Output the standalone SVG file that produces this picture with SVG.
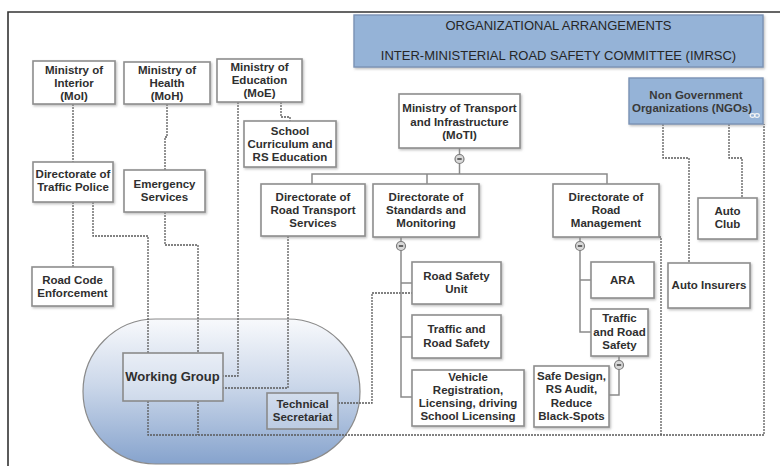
<svg xmlns="http://www.w3.org/2000/svg" width="780" height="466" viewBox="0 0 780 466">
<defs>
<linearGradient id="stad" x1="0" y1="0" x2="0" y2="1">
<stop offset="0" stop-color="#f8f9fc"/>
<stop offset="0.45" stop-color="#ccd8ea"/>
<stop offset="1" stop-color="#86a3cd"/>
</linearGradient>
<filter id="sh" x="-10%" y="-10%" width="125%" height="130%">
<feDropShadow dx="1.2" dy="1.4" stdDeviation="0.8" flood-color="#888" flood-opacity="0.55"/>
</filter>
</defs>
<style>
.box{fill:#fff;stroke:#8e8e8e;stroke-width:1.6;filter:url(#sh)}
.tbox{fill:#fff;fill-opacity:0.25;stroke:#8a8a8a;stroke-width:1.6}
.bbox{fill:#95b3d7;stroke:#7b93b6;stroke-width:1.4;filter:url(#sh)}
.t{font-family:"Liberation Sans",Arial,sans-serif;font-size:11.5px;font-weight:bold;fill:#2f2f2f;text-anchor:middle}
.tt{font-family:"Liberation Sans",Arial,sans-serif;font-size:13px;fill:#262626;text-anchor:middle}
.tn{font-family:"Liberation Sans",Arial,sans-serif;font-size:11.5px;font-weight:bold;fill:#3a3a3a;text-anchor:middle}
.sol{fill:none;stroke:#8a8a8a;stroke-width:1.5}
.dash{fill:none;stroke:#5a5a5a;stroke-width:1.3;stroke-dasharray:2 1}
.cir{fill:#d9d9d9;stroke:#7a7a7a;stroke-width:1.2}
.minus{stroke:#333;stroke-width:1.4}
.frame{fill:none;stroke:#333;stroke-width:1.6}
</style>
<rect width="780" height="466" fill="#fff"/>
<path class="frame" d="M8,466 V12 H780"/>

<g id="working-area">
<rect x="83" y="319" width="277" height="145" rx="72.5" fill="url(#stad)" stroke="#8a8a8a" stroke-width="1.2"/>
</g>

<g id="connectors">
<path class="dash" d="M73,104 V162"/>
<path class="dash" d="M73,202 V267"/>
<path class="dash" d="M93,202 V236 H148 V353"/>
<path class="dash" d="M167,104 V137 H165 V170"/>
<path class="dash" d="M165,212 V245 H198 V353"/>
<path class="dash" d="M238,102 V376 H223"/>
<path class="dash" d="M281,102 V117 H290 V121"/>
<path class="dash" d="M288,236 V388 H223"/>
<path class="dash" d="M338,403 H372 V293 H412"/>
<path class="dash" d="M148,401 V435 H764 V124"/>
<path class="dash" d="M198,401 V435"/>
<path class="dash" d="M659,237 H661 V435"/>
<path class="dash" d="M663,124 V158 H689 V263"/>
<path class="dash" d="M729,124 V158 H742 V198"/>
<path class="sol" d="M459.5,148 V154.5 M459.5,163.5 V174 M312,184 V174 H607 V184 M427,174 V184"/>
<path class="sol" d="M401,237 V241.5 M401,250.5 V397 H412 M401,283 H412 M401,337 H412"/>
<path class="sol" d="M580,237 V241.5 M580,250.5 V332 H591 M580,280 H591"/>
<path class="sol" d="M619,356 V360.5 M619,369.5 V395 H609"/>
<g id="collapse-icons">
<circle class="cir" cx="459.5" cy="159" r="4.5"/><path class="minus" d="M457.3,159 H461.7"/>
<circle class="cir" cx="401" cy="246" r="4.5"/><path class="minus" d="M398.8,246 H403.2"/>
<circle class="cir" cx="580" cy="246" r="4.5"/><path class="minus" d="M577.8,246 H582.2"/>
<circle class="cir" cx="619" cy="365" r="4.5"/><path class="minus" d="M616.8,365 H621.2"/>
</g>
</g>

<g id="title">
<rect class="bbox" x="354" y="15" width="409" height="52"/>
<text class="tt" x="558.5" y="30">ORGANIZATIONAL ARRANGEMENTS</text>
<text class="tt" x="558.5" y="60">INTER-MINISTERIAL ROAD SAFETY COMMITTEE (IMRSC)</text>
</g>

<g id="ngo">
<rect class="bbox" x="629" y="78" width="134" height="46"/>
<text class="tn" x="696" y="99">Non Government</text>
<text class="tn" x="692" y="112">Organizations (NGOs)</text>
<g fill="none" stroke="#f4f4f4" stroke-width="1.2"><ellipse cx="752.5" cy="115.5" rx="2.3" ry="1.8"/><ellipse cx="757" cy="115.5" rx="2.3" ry="1.8"/></g>
</g>

<g id="moi">
<rect class="box" x="33" y="61" width="82" height="43"/>
<text class="t" x="74" y="74">Ministry of</text>
<text class="t" x="74" y="87">Interior</text>
<text class="t" x="74" y="100">(MoI)</text>
</g>
<g id="moh">
<rect class="box" x="124" y="62" width="86" height="42"/>
<text class="t" x="167" y="74">Ministry of</text>
<text class="t" x="167" y="87">Health</text>
<text class="t" x="167" y="100">(MoH)</text>
</g>
<g id="moe">
<rect class="box" x="217" y="59" width="85" height="43"/>
<text class="t" x="259.5" y="71">Ministry of</text>
<text class="t" x="259.5" y="84">Education</text>
<text class="t" x="259.5" y="97">(MoE)</text>
</g>
<g id="school">
<rect class="box" x="244" y="121" width="92" height="46"/>
<text class="t" x="290" y="135">School</text>
<text class="t" x="290" y="148">Curriculum and</text>
<text class="t" x="290" y="161">RS Education</text>
</g>
<g id="traffic-police">
<rect class="box" x="33" y="162" width="80" height="40"/>
<text class="t" x="73" y="178">Directorate of</text>
<text class="t" x="73" y="191">Traffic Police</text>
</g>
<g id="emergency">
<rect class="box" x="124" y="170" width="81" height="42"/>
<text class="t" x="164.5" y="188">Emergency</text>
<text class="t" x="164.5" y="201">Services</text>
</g>
<g id="road-code">
<rect class="box" x="32" y="267" width="81" height="39"/>
<text class="t" x="72.5" y="284">Road Code</text>
<text class="t" x="72.5" y="297">Enforcement</text>
</g>
<g id="road-transport">
<rect class="box" x="261" y="184" width="104" height="52"/>
<text class="t" x="313" y="201">Directorate of</text>
<text class="t" x="313" y="214">Road Transport</text>
<text class="t" x="313" y="227">Services</text>
</g>
<g id="moti">
<rect class="box" x="399" y="94" width="121" height="54"/>
<text class="t" x="459.5" y="112">Ministry of Transport</text>
<text class="t" x="459.5" y="126">and Infrastructure</text>
<text class="t" x="459.5" y="139">(MoTI)</text>
</g>
<g id="standards">
<rect class="box" x="373" y="184" width="106" height="53"/>
<text class="t" x="426" y="201">Directorate of</text>
<text class="t" x="426" y="214">Standards and</text>
<text class="t" x="426" y="227">Monitoring</text>
</g>
<g id="road-management">
<rect class="box" x="553" y="184" width="106" height="53"/>
<text class="t" x="606" y="201">Directorate of</text>
<text class="t" x="606" y="214">Road</text>
<text class="t" x="606" y="227">Management</text>
</g>
<g id="auto-club">
<rect class="box" x="698" y="198" width="59" height="41"/>
<text class="t" x="727.5" y="215">Auto</text>
<text class="t" x="727.5" y="228">Club</text>
</g>
<g id="auto-insurers">
<rect class="box" x="668" y="263" width="82" height="45"/>
<text class="t" x="709" y="289">Auto Insurers</text>
</g>
<g id="road-safety-unit">
<rect class="box" x="412" y="262" width="89" height="42"/>
<text class="t" x="456.5" y="280">Road Safety</text>
<text class="t" x="456.5" y="293">Unit</text>
</g>
<g id="traffic-road-safety">
<rect class="box" x="412" y="315" width="89" height="43"/>
<text class="t" x="456.5" y="333">Traffic and</text>
<text class="t" x="456.5" y="347">Road Safety</text>
</g>
<g id="vehicle-registration">
<rect class="box" x="412" y="370" width="112" height="56"/>
<text class="t" x="468" y="381">Vehicle</text>
<text class="t" x="468" y="394">Registration,</text>
<text class="t" x="468" y="407">Licensing, driving</text>
<text class="t" x="468" y="420">School Licensing</text>
</g>
<g id="ara">
<rect class="box" x="591" y="262" width="63" height="36"/>
<text class="t" x="622.5" y="284">ARA</text>
</g>
<g id="traffic-road-safety-2">
<rect class="box" x="591" y="309" width="57" height="47"/>
<text class="t" x="619.5" y="322">Traffic</text>
<text class="t" x="619.5" y="336">and Road</text>
<text class="t" x="619.5" y="349">Safety</text>
</g>
<g id="safe-design">
<rect class="box" x="534" y="366" width="75" height="61"/>
<text class="t" x="571.5" y="380">Safe Design,</text>
<text class="t" x="571.5" y="393">RS Audit,</text>
<text class="t" x="571.5" y="407">Reduce</text>
<text class="t" x="571.5" y="420">Black-Spots</text>
</g>
<g id="working-group">
<rect class="tbox" x="123" y="353" width="100" height="48"/>
<text class="t" x="172.5" y="381" style="font-size:13px">Working Group</text>
</g>
<g id="technical-secretariat">
<rect class="tbox" x="267" y="393" width="71" height="36"/>
<text class="t" x="302.5" y="408">Technical</text>
<text class="t" x="302.5" y="421">Secretariat</text>
</g>
</svg>
